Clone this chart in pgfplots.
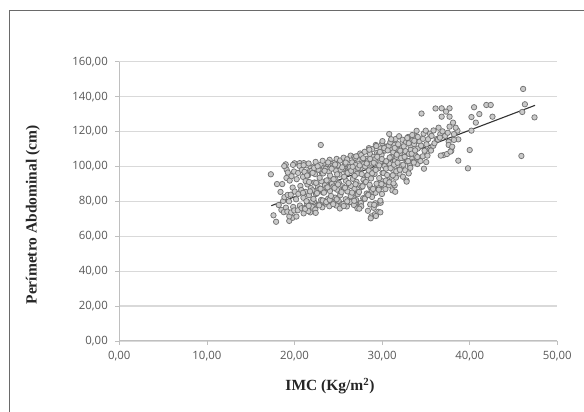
\documentclass[border=0pt]{standalone}
\usepackage{fontspec}
\setmainfont{Liberation Serif}
\newfontfamily\tickfont{Open Sans}
\usepackage{pgfplots}
\pgfplotsset{compat=1.18}

\definecolor{gridgray}{HTML}{D9D9D9}
\definecolor{axisgray}{HTML}{BFBFBF}
\definecolor{ticktext}{HTML}{595959}
\definecolor{markfill}{HTML}{CACACA}
\definecolor{markdraw}{HTML}{737373}
\definecolor{framegray}{HTML}{6A6A6A}

% IMC (kg/m2) vs perimetro abdominal (cm)
\pgfplotstableread{
x y
17.3 95.5
17.6 72.0
17.9 68.3
18.0 89.9
18.6 89.9
18.4 85.4
19.0 101.2
19.1 98.2
19.4 68.8
19.8 70.6
18.2 77.9
18.5 75.1
18.7 80.2
20.0 101.8
20.6 101.9
21.8 73.7
23.0 112.3
18.78 73.8
19.02 76.4
18.85 82.4
19.08 93.4
18.83 100.2
19.41 71.4
19.18 74.1
19.37 80.0
19.22 83.7
19.45 91.9
19.24 96.5
19.62 73.7
19.85 76.8
19.58 83.8
19.79 87.9
19.66 94.4
19.83 100.9
20.22 71.3
19.97 74.8
20.18 81.2
20.03 85.6
20.25 92.7
19.95 97.1
20.38 74.9
20.62 77.6
20.44 84.3
20.67 88.8
20.41 96.3
20.58 100.3
21.04 73.1
20.81 76.1
21.02 82.0
20.77 86.5
20.97 94.0
20.84 98.0
21.05 101.9
21.18 76.2
21.44 78.7
21.25 85.4
21.47 89.7
21.14 96.9
21.39 100.6
21.58 74.4
21.84 77.2
21.65 83.5
21.87 87.6
21.54 94.8
21.78 97.6
21.61 101.7
21.98 77.0
22.24 79.6
22.05 86.3
22.27 90.8
21.94 97.5
22.18 99.9
22.38 75.3
22.64 78.0
22.45 84.2
22.67 88.3
22.34 95.6
22.58 98.5
22.41 102.6
22.78 78.1
23.04 80.8
22.85 87.0
23.07 91.5
22.74 98.1
22.98 101.0
23.18 76.6
23.44 79.1
23.25 85.1
23.47 89.2
23.14 96.1
23.38 99.3
23.21 103.2
23.58 78.7
23.84 81.5
23.65 87.8
23.87 92.1
23.54 98.7
23.78 101.5
23.98 77.2
24.24 79.8
24.05 85.9
24.27 90.0
23.94 97.0
24.18 100.1
24.01 103.8
24.38 79.3
24.64 82.1
24.45 88.5
24.67 92.7
24.34 99.4
24.58 102.2
24.78 77.6
25.04 80.3
24.85 86.7
25.07 90.6
24.74 97.6
24.98 100.6
24.81 104.3
25.18 75.9
25.44 78.5
25.25 84.5
25.47 88.6
25.14 95.3
25.38 98.8
25.21 103.4
25.58 78.5
25.84 81.2
25.65 87.6
25.87 91.8
25.54 98.4
25.78 101.4
25.61 105.0
25.98 77.1
26.24 79.5
26.05 85.7
26.27 89.5
25.94 96.5
26.18 99.5
26.01 104.1
26.38 79.7
26.64 82.5
26.45 88.8
26.67 92.9
26.34 99.6
26.58 102.3
26.41 106.2
26.78 77.9
27.04 80.7
26.85 87.1
27.07 91.2
26.74 97.8
26.98 100.8
26.81 105.4
27.18 76.0
27.44 78.8
27.25 85.2
27.47 89.0
27.14 95.8
27.38 99.1
27.21 104.0
27.49 107.4
27.58 79.0
27.84 81.8
27.65 88.2
27.87 92.3
27.54 99.0
27.78 101.9
27.61 106.5
27.98 81.3
28.24 84.5
28.05 90.8
28.27 94.9
27.94 101.5
28.18 104.4
28.01 108.4
28.38 74.6
28.64 78.2
28.45 84.3
28.67 88.1
28.34 95.0
28.58 98.3
28.41 103.3
28.62 107.1
28.49 110.5
28.78 71.4
29.04 76.3
28.85 82.5
29.07 86.3
28.74 93.1
28.98 96.5
28.81 101.7
29.02 105.5
28.87 109.9
29.18 72.6
29.44 78.7
29.25 84.9
29.47 88.9
29.14 95.7
29.38 99.0
29.21 104.2
29.43 107.8
29.28 112.3
29.58 74.0
29.84 79.2
29.65 88.0
29.87 92.0
29.54 98.9
29.78 102.1
29.61 106.9
29.82 110.3
29.98 84.2
30.24 88.8
30.05 96.3
30.27 100.2
29.94 106.6
30.18 109.0
30.01 113.3
30.38 87.0
30.64 91.3
30.45 98.7
30.67 102.7
30.34 109.1
30.58 111.5
30.78 89.2
31.04 94.1
30.85 101.5
31.07 105.6
30.74 111.7
30.98 114.0
30.81 118.6
31.18 86.3
31.44 89.2
31.25 97.9
31.47 103.1
31.14 109.6
31.38 112.3
31.58 93.6
31.84 98.1
31.65 105.5
31.87 109.5
31.54 115.7
31.98 95.9
32.24 100.2
32.05 107.6
32.27 111.4
31.94 117.3
32.38 94.1
32.64 97.8
32.45 104.7
32.67 108.8
32.34 115.3
32.78 92.0
33.04 96.0
32.85 103.2
33.07 107.2
32.74 113.9
32.98 116.9
33.18 100.5
33.44 104.5
33.25 111.3
33.47 115.0
33.58 102.7
33.84 106.2
33.65 112.8
33.87 117.3
34.02 101.4
34.24 103.7
34.05 110.2
34.27 114.3
33.94 120.4
34.38 103.1
34.64 105.8
34.45 111.9
34.67 115.8
34.5 130.3
34.78 98.7
35.04 102.5
34.85 109.0
35.07 112.7
34.74 118.8
34.98 120.5
35.18 106.2
35.44 109.6
35.25 115.6
35.47 118.8
35.58 109.1
35.84 111.8
35.65 117.5
35.87 120.6
35.98 113.3
36.24 115.7
36.1 133.2
36.38 115.4
36.64 118.5
36.45 122.2
21.22 75.7
20.97 84.9
21.27 91.6
21.04 100.7
21.62 77.4
21.37 80.1
21.67 91.1
21.44 94.8
22.02 80.2
21.77 85.7
22.07 96.3
22.42 73.4
22.17 81.4
22.47 90.6
22.24 99.1
22.82 77.7
22.57 84.7
22.87 93.5
22.64 100.1
23.22 80.5
22.97 87.2
23.27 96.0
23.62 79.6
23.37 85.0
23.67 92.0
23.44 97.5
24.02 80.9
23.77 88.0
24.07 94.7
23.84 102.3
24.42 78.4
24.17 83.1
24.47 92.7
24.24 98.7
24.82 81.2
24.57 87.7
24.87 95.5
24.64 101.1
25.22 83.5
24.97 89.7
25.27 98.1
25.62 77.3
25.37 85.3
25.67 94.1
25.44 99.5
26.02 80.0
25.77 87.8
26.07 96.3
25.84 102.2
26.42 82.9
26.17 90.5
26.47 97.5
26.82 80.3
26.57 85.0
26.87 94.6
26.64 99.8
26.94 104.9
27.22 84.1
26.97 89.8
27.27 99.2
27.04 105.8
27.62 77.2
27.37 85.4
27.67 95.6
27.44 100.6
28.02 81.5
27.77 88.6
28.07 100.0
27.84 104.7
28.42 83.6
28.17 91.1
28.47 97.7
28.24 101.7
28.54 109.6
28.82 86.2
28.57 89.5
28.87 96.1
28.64 104.3
29.22 78.9
28.97 87.1
29.27 98.0
29.04 102.1
29.34 111.7
29.62 86.7
29.37 90.1
29.67 100.6
29.44 105.5
29.92 89.9
29.67 93.3
29.97 104.2
29.74 108.3
30.04 114.5
30.42 91.9
30.17 96.2
30.47 103.0
30.24 110.5
30.82 90.9
30.57 95.1
30.87 105.1
30.64 109.2
30.94 113.8
31.22 94.9
30.97 99.0
31.27 108.1
31.04 115.6
31.62 97.2
31.37 101.0
31.67 106.7
31.44 110.6
32.02 98.1
31.77 102.1
32.07 109.0
31.84 112.7
32.42 101.0
32.17 104.8
32.47 111.5
32.82 102.9
32.57 105.5
32.87 116.3
33.22 99.2
32.97 103.0
33.27 109.5
33.04 113.3
33.62 102.2
33.37 107.3
33.67 114.7
33.44 118.0
34.02 105.4
33.77 109.2
34.07 116.9
27.4 75.8
28.7 70.3
29.3 71.6
29.8 73.7
29.8 80.4
29.1 78.0
31.3 90.3
31.5 85.5
32.8 91.3
36.8 133.3
37.7 133.3
36.8 128.5
37.0 106.5
36.7 106.2
37.4 107.1
37.9 109.0
37.3 131.4
37.7 128.5
38.1 125.1
37.7 122.8
38.6 120.5
38.7 115.5
38.2 115.2
37.6 114.2
37.6 112.3
38.0 111.3
37.8 108.5
38.7 103.3
39.8 98.9
40.0 109.4
40.2 120.5
40.2 128.3
40.5 133.9
40.7 125.1
41.1 130.0
41.9 135.2
42.4 135.2
42.6 128.5
45.9 106.0
46.0 131.2
46.1 144.4
46.3 135.6
47.4 128.1
37.2 117.5
36.9 120.1
37.5 119.3
36.6 116.5
38.2 118.5
38.4 122.2
}\imcdata

\begin{document}
\begin{tikzpicture}[x=1pt,y=1pt]
\useasboundingbox (0,0) rectangle (584,412);
\fill[white] (0,0) rectangle (584,412);
\draw[framegray, line width=1.4pt] (9.3,-30) -- (9.3,401.3) -- (640,401.3);
\begin{axis}[
    at={(119.3pt,71pt)}, anchor=south west,
    scale only axis,
    width=438pt, height=279.3pt,
    xmin=0, xmax=50, ymin=0, ymax=160,
    xtick={0,10,...,50}, ytick={0,20,...,160},
    axis lines*=left,
    axis line style={draw=axisgray, line width=1pt},
    ymajorgrids,
    major grid style={draw=gridgray, line width=1.2pt},
    tick align=outside, major tick length=4pt,
    tick style={draw=axisgray, line width=0.8pt},
    xtick pos=lower, ytick pos=left,
    /pgf/number format/.cd, fixed, fixed zerofill, precision=2, use comma, 1000 sep={}, assume math mode=true,
    /pgfplots/.cd,
    ticklabel style={font=\tickfont\fontsize{11.4}{13}\selectfont, text=ticktext},
    yticklabel style={xshift=-4pt},
    xticklabel style={yshift=-3pt},
    xlabel={IMC (Kg/m\textsuperscript{2})},
    ylabel={Perímetro Abdominal (cm)},
    label style={font=\bfseries\fontsize{15.5}{18}\selectfont, text=black!85},
    xlabel style={at={(axis description cs:0.481,-0.161)}, anchor=center},
    ylabel style={at={(axis description cs:-0.197,0.451)}, anchor=center},
    clip=false,
]
\addplot[only marks, mark=*, mark size=2.7pt,
    mark options={fill=markfill, draw=markdraw, line width=0.75pt}]
    table[x=x, y=y] {\imcdata};
\addplot[no marks, black!80, line width=1.1pt] coordinates {(17.35,77.5) (47.46,135.0)};
\end{axis}
\end{tikzpicture}
\end{document}
